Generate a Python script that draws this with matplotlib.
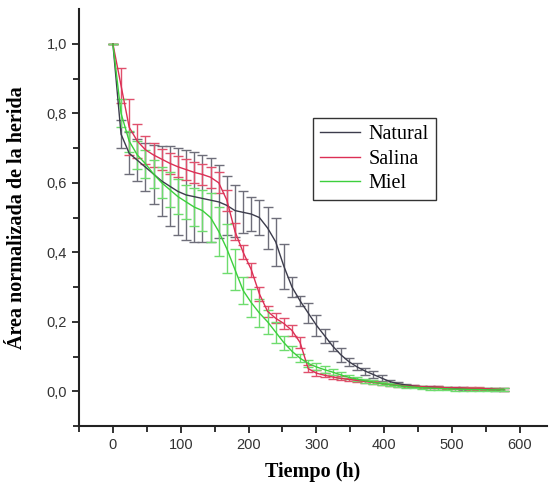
import numpy as np
import matplotlib
matplotlib.use("Agg")
import matplotlib.pyplot as plt
from matplotlib.ticker import FuncFormatter

# Time points (h), shared by the three groups
tiempo = list(range(0, 577, 12))

natural = [1.00, 0.74, 0.685, 0.665, 0.645, 0.625, 0.605, 0.59, 0.575, 0.565,
           0.56, 0.555, 0.55, 0.545, 0.535, 0.52, 0.515, 0.51, 0.50, 0.47,
           0.43, 0.36, 0.30, 0.26, 0.225, 0.19, 0.16, 0.13, 0.105, 0.085,
           0.07, 0.058, 0.048, 0.038, 0.028, 0.022, 0.018, 0.015, 0.013, 0.012,
           0.011, 0.01, 0.009, 0.008, 0.007, 0.006, 0.006, 0.005, 0.005]
natural_err = [0.0, 0.04, 0.06, 0.06, 0.07, 0.085, 0.10, 0.115, 0.125, 0.13,
               0.13, 0.125, 0.12, 0.105, 0.085, 0.075, 0.06, 0.05, 0.05, 0.06,
               0.07, 0.065, 0.03, 0.015, 0.03, 0.03, 0.02, 0.015, 0.02, 0.012,
               0.01, 0.01, 0.01, 0.008, 0.005, 0.004, 0.003, 0.003, 0.003, 0.003,
               0.003, 0.003, 0.003, 0.003, 0.003, 0.003, 0.003, 0.003, 0.003]

salina = [1.00, 0.88, 0.76, 0.72, 0.695, 0.68, 0.668, 0.656, 0.646, 0.638,
          0.63, 0.624, 0.616, 0.60, 0.55, 0.46, 0.40, 0.35, 0.28, 0.23,
          0.21, 0.195, 0.175, 0.14, 0.065, 0.052, 0.046, 0.041, 0.037, 0.034,
          0.031, 0.028, 0.025, 0.022, 0.019, 0.017, 0.015, 0.014, 0.013, 0.012,
          0.011, 0.01, 0.01, 0.009, 0.008, 0.008, 0.007, 0.006, 0.005]
salina_err = [0.0, 0.05, 0.08, 0.05, 0.04, 0.035, 0.03, 0.03, 0.03, 0.03,
              0.03, 0.03, 0.03, 0.03, 0.03, 0.025, 0.02, 0.02, 0.02, 0.015,
              0.015, 0.015, 0.015, 0.015, 0.01, 0.008, 0.006, 0.006, 0.006, 0.005,
              0.005, 0.005, 0.005, 0.004, 0.004, 0.004, 0.003, 0.003, 0.003, 0.003,
              0.003, 0.003, 0.003, 0.003, 0.003, 0.003, 0.003, 0.003, 0.003]

miel = [1.00, 0.80, 0.72, 0.68, 0.655, 0.625, 0.60, 0.58, 0.56, 0.545,
        0.53, 0.52, 0.50, 0.46, 0.41, 0.35, 0.29, 0.255, 0.225, 0.20,
        0.17, 0.14, 0.115, 0.095, 0.08, 0.07, 0.062, 0.055, 0.047, 0.04,
        0.035, 0.03, 0.026, 0.022, 0.019, 0.016, 0.014, 0.012, 0.01, 0.009,
        0.008, 0.007, 0.006, 0.006, 0.005, 0.005, 0.004, 0.004, 0.004]
miel_err = [0.0, 0.04, 0.03, 0.04, 0.04, 0.04, 0.045, 0.05, 0.05, 0.05,
            0.055, 0.06, 0.07, 0.07, 0.07, 0.06, 0.04, 0.04, 0.04, 0.035,
            0.03, 0.02, 0.015, 0.012, 0.01, 0.01, 0.01, 0.008, 0.008, 0.006,
            0.006, 0.005, 0.005, 0.005, 0.004, 0.004, 0.004, 0.004, 0.004, 0.004,
            0.004, 0.004, 0.004, 0.004, 0.004, 0.004, 0.004, 0.004, 0.004]

series = [
    ("Natural", natural, natural_err, "#3c3c4c", "#6e6e7a"),
    ("Salina", salina, salina_err, "#dc2f55", "#e0506c"),
    ("Miel", miel, miel_err, "#3ccf3c", "#6edc6e"),
]

fig = plt.figure(figsize=(5.5, 4.87), dpi=100)
ax = fig.add_axes([0.1436, 0.1253, 0.851, 0.856])

for name, vals, err, col, ecol in series:
    ax.errorbar(tiempo, vals, yerr=err, color=col, ecolor=ecol, lw=1.0,
                elinewidth=1.0, capsize=3.5, capthick=1.0, label=name)

ax.set_xlim(-50, 640)
ax.set_ylim(-0.1, 1.1)
ax.set_xticks(range(0, 601, 100))
ax.set_xticks(range(-50, 600, 100), minor=True)
ax.set_yticks([0, 0.2, 0.4, 0.6, 0.8, 1.0])
ax.set_yticks([-0.1, 0.1, 0.3, 0.5, 0.7, 0.9], minor=True)
ax.yaxis.set_major_formatter(FuncFormatter(lambda v, p: f"{v:.1f}".replace(".", ",")))

for s in ["top", "right"]:
    ax.spines[s].set_visible(False)
for s in ["left", "bottom"]:
    ax.spines[s].set_linewidth(1.5)
    ax.spines[s].set_color("#222222")

ax.tick_params(which="major", direction="out", length=5, width=1.3, colors="#222222",
               labelsize=10.5, labelcolor="#333333")
ax.tick_params(which="minor", direction="out", length=4, width=1.3, colors="#222222")
for lab in ax.get_xticklabels() + ax.get_yticklabels():
    lab.set_fontfamily("Liberation Sans")

ax.set_xlabel("Tiempo (h)", family="Liberation Serif", fontweight="bold", fontsize=14.5, labelpad=7)
ax.set_ylabel("Área normalizada de la herida", family="Liberation Serif", fontweight="bold",
              fontsize=14.5, labelpad=14)

handles, labels = ax.get_legend_handles_labels()
handles = [h[0] for h in handles]
leg = ax.legend(handles, labels, loc="upper left", bbox_to_anchor=(0.5, 0.738), borderaxespad=0,
                fancybox=False, edgecolor="#333333", framealpha=1,
                prop={"family": "Liberation Serif", "size": 14.5}, labelspacing=0.25,
                handlelength=2.0, handletextpad=0.4, borderpad=0.35)
leg.get_frame().set_linewidth(1.0)

fig.savefig("out.png", dpi=100)
